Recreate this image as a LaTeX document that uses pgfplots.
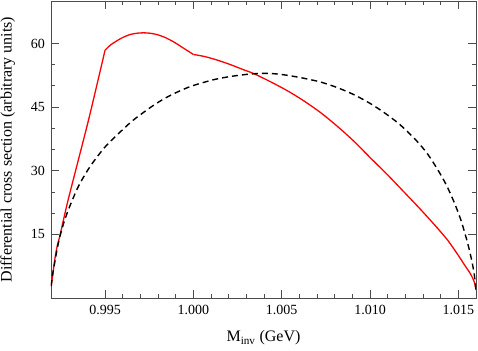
\documentclass[border=0pt]{standalone}
\usepackage{pgfplots}
\pgfplotsset{compat=1.18}
\usepackage{fontspec}
\setmainfont{Liberation Serif}
\begin{document}
\begin{tikzpicture}
\begin{axis}[
  scale only axis, width=425bp, height=297bp,
  xmin=0.99194, xmax=1.0160, ymin=0, ymax=70,
  xtick={0.995,1.000,1.005,1.010,1.015},
  minor x tick num=4,
  ytick={15,30,45,60},
  minor y tick num=2,
  scaled x ticks=false,
  /pgf/number format/assume math mode=true,
  xticklabel style={/pgf/number format/fixed, /pgf/number format/fixed zerofill, /pgf/number format/precision=3,
    anchor=base, inner sep=0pt, yshift=-16.5bp, font=\fontsize{14bp}{14bp}\selectfont},
  yticklabel style={anchor=east, inner sep=0pt, xshift=-6bp, font=\fontsize{14bp}{14bp}\selectfont},
  tick align=inside,
  major tick length=8bp, minor tick length=4bp,
  axis line style={black!70, line width=0.8bp},
  every tick/.style={black!70, line width=0.8bp},
  xlabel={M\textsubscript{inv} (GeV)},
  ylabel={Differential cross section (arbitrary units)},
  xlabel style={at={(axis description cs:0.5,-0.1471)}, anchor=base, inner sep=0pt, font=\fontsize{16bp}{16bp}\selectfont},
  ylabel style={at={(axis description cs:-0.0929,0.5)}, anchor=base, inner sep=0pt, font=\fontsize{16bp}{16bp}\selectfont},
]
\addplot[red, line width=1.3bp, smooth, tension=0.4] coordinates {
(0.99195,2.8) (0.99205,5.8) (0.99217,9.5) (0.99230,12.4) (0.99245,14.8)
(0.99292,23.3) (0.99405,41.7) (0.99500,58.4)
};
\addplot[red, line width=1.3bp, smooth] coordinates {
(0.99500,58.4)
(0.99530,59.6) (0.99566,60.6) (0.99600,61.4) (0.99642,62.1) (0.99680,62.4)
(0.99717,62.5) (0.99755,62.4) (0.99793,62.1) (0.99840,61.4) (0.99887,60.4)
(0.99940,59.0) (1.00000,57.4)
};
\addplot[red, line width=1.3bp, smooth] coordinates {
(1.00000,57.4)
(1.00065,56.9) (1.00133,56.1) (1.00210,55.0) (1.00284,53.8) (1.00341,52.9)
(1.00435,51.0) (1.00530,48.9) (1.00624,46.5) (1.00720,43.7) (1.00814,40.5)
(1.00910,36.9) (1.01003,33.0) (1.01100,29.0) (1.01192,25.0) (1.01290,20.7)
(1.01381,16.5) (1.01440,13.6) (1.01494,10.4) (1.01535,7.8) (1.01570,5.6)
(1.01590,3.8) (1.01600,1.9)
};
\addplot[black, line width=1.4bp, dash pattern=on 6bp off 4bp, smooth] coordinates {
(0.99195,2.8) (0.99205,6.0) (0.99217,8.8) (0.99230,11.8) (0.99245,14.6)
(0.99270,18.2) (0.99300,21.6) (0.99349,26.3) (0.99400,30.0) (0.99443,32.6)
(0.99500,35.6) (0.99547,37.6) (0.99642,41.3) (0.99700,43.2) (0.99774,45.4)
(0.99840,47.1) (0.99907,48.5) (0.99980,49.8) (1.00057,50.8) (1.00130,51.6)
(1.00209,52.2) (1.00280,52.6) (1.00341,52.85) (1.00400,52.95) (1.00460,52.85)
(1.00530,52.5) (1.00624,51.8) (1.00720,50.9) (1.00814,49.6) (1.00910,47.9)
(1.01003,45.8) (1.01080,43.7) (1.01154,41.4) (1.01210,39.3) (1.01267,36.9)
(1.01325,34.0) (1.01381,30.4) (1.01430,26.8) (1.01475,22.7) (1.01515,18.3)
(1.01551,13.2) (1.01575,9.0) (1.01590,5.6) (1.01600,2.0)
};
\end{axis}
\pgfresetboundingbox
\path (current axis.south west) +(-51bp,-53bp) (current axis.north east) +(2bp,1bp);
\end{tikzpicture}
\end{document}
